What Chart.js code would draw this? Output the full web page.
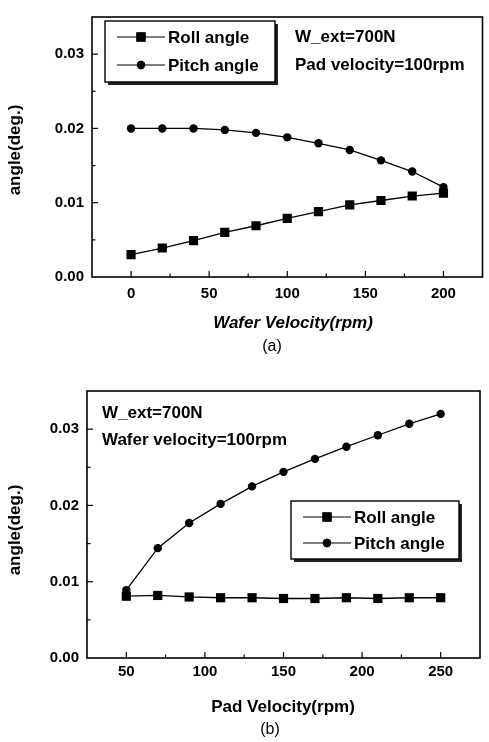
<!DOCTYPE html>
<html>
<head>
<meta charset="utf-8">
<script src="https://cdn.jsdelivr.net/npm/chart.js@4.4.1/dist/chart.umd.min.js"></script>
<style>
  html, body { margin: 0; padding: 0; background: #fff; }
  #wrapA { position: absolute; left: 0; top: 0; width: 489px; height: 370px; }
  #wrapB { position: absolute; left: 0; top: 370px; width: 489px; height: 372px; }
</style>
</head>
<body>
<div id="wrapA"><canvas id="chartA" width="489" height="370"></canvas></div>
<div id="wrapB"><canvas id="chartB" width="489" height="372"></canvas></div>
<script>
// (a) angle vs wafer velocity
const waferVelocity = [0, 20, 40, 60, 80, 100, 120, 140, 160, 180, 200];
const rollA  = [0.0030, 0.0039, 0.0049, 0.0060, 0.0069, 0.0079, 0.0088, 0.0097, 0.0103, 0.0109, 0.0113];
const pitchA = [0.0200, 0.0200, 0.0200, 0.0198, 0.0194, 0.0188, 0.0180, 0.0171, 0.0157, 0.0142, 0.0121];
const xTicksA = [0, 50, 100, 150, 200];

// (b) angle vs pad velocity
const padVelocity = [50, 70, 90, 110, 130, 150, 170, 190, 210, 230, 250];
const rollB  = [0.0081, 0.0082, 0.0080, 0.0079, 0.0079, 0.0078, 0.0078, 0.0079, 0.0078, 0.0079, 0.0079];
const pitchB = [0.0089, 0.0144, 0.0177, 0.0202, 0.0225, 0.0244, 0.0261, 0.0277, 0.0292, 0.0307, 0.0320];
const xTicksB = [50, 100, 150, 200, 250];

const yTicks = [0, 0.01, 0.02, 0.03];

const FONT = "'Liberation Sans', Arial, sans-serif";

function pts(xs, ys) {
  return xs.map((x, i) => ({ x: x, y: ys[i] }));
}

// frame, inward ticks, titles, notes and boxed legend
const paperPlugin = {
  id: 'paper',
  afterDraw(chart, args, opts) {
    const ctx = chart.ctx;
    const a = chart.chartArea;
    const xs = chart.scales.x;
    const ys = chart.scales.y;
    ctx.save();
    ctx.strokeStyle = '#000';
    ctx.lineWidth = 1.6;
    ctx.strokeRect(a.left, a.top, a.right - a.left, a.bottom - a.top);

    // inward tick marks
    ctx.lineWidth = 1.2;
    function tickMarks(scale, values, len, horizontal) {
      values.forEach(v => {
        const p = scale.getPixelForValue(v);
        ctx.beginPath();
        if (horizontal) {
          if (p <= a.left + 1 || p >= a.right - 1) return;
          ctx.moveTo(p, a.bottom); ctx.lineTo(p, a.bottom - len);
        } else {
          if (p <= a.top + 1 || p >= a.bottom - 1) return;
          ctx.moveTo(a.left, p); ctx.lineTo(a.left + len, p);
        }
        ctx.stroke();
      });
    }
    const xv = xs.ticks.map(t => t.value);
    const yv = ys.ticks.map(t => t.value);
    const half = arr => arr.map(v => v + (arr[1] - arr[0]) / 2);
    tickMarks(xs, xv, 6, true);
    tickMarks(xs, half(xv), 3.5, true);
    tickMarks(ys, yv, 6, false);
    tickMarks(ys, half(yv), 3.5, false);

    // axis titles and caption
    ctx.fillStyle = '#000';
    ctx.textAlign = 'center';
    ctx.textBaseline = 'middle';
    ctx.font = opts.xTitleFont;
    ctx.fillText(opts.xTitle, opts.xTitlePos[0], opts.xTitlePos[1]);
    ctx.font = 'normal 16px ' + FONT;
    ctx.fillText(opts.caption, opts.captionPos[0], opts.captionPos[1]);
    ctx.save();
    ctx.translate(opts.yTitlePos[0], opts.yTitlePos[1]);
    ctx.rotate(-Math.PI / 2);
    ctx.font = 'bold 17px ' + FONT;
    ctx.fillText('angle(deg.)', 0, 0);
    ctx.restore();

    // notes
    ctx.textAlign = 'left';
    ctx.font = 'bold 17px ' + FONT;
    opts.notes.forEach((n, i) => {
      ctx.fillText(n, opts.notesPos[0], opts.notesPos[1] + i * opts.notesGap);
    });

    // legend box with shadow
    const lb = opts.legendBox;
    ctx.fillStyle = '#222';
    ctx.fillRect(lb.x + 3, lb.y + 3, lb.w, lb.h);
    ctx.fillStyle = '#fff';
    ctx.fillRect(lb.x, lb.y, lb.w, lb.h);
    ctx.lineWidth = 1.4;
    ctx.strokeRect(lb.x, lb.y, lb.w, lb.h);
    chart.data.datasets.forEach((ds, i) => {
      const ry = lb.y + lb.rows[i];
      ctx.lineWidth = 1.2;
      ctx.strokeStyle = '#000';
      ctx.beginPath();
      ctx.moveTo(lb.x + 12, ry); ctx.lineTo(lb.x + 60, ry);
      ctx.stroke();
      ctx.fillStyle = '#000';
      Chart.helpers.drawPoint(ctx, {
        pointStyle: ds.pointStyle, radius: ds.pointRadius, borderWidth: 0
      }, lb.x + 36, ry);
      ctx.fill();
      ctx.font = 'bold 17px ' + FONT;
      ctx.textAlign = 'left';
      ctx.fillText(ds.label, lb.x + 63, ry + 1);
    });
    ctx.restore();
  }
};

function makeChart(id, xs, roll, pitch, xTicks, xMin, xMax, padding, yWidth, xHeight, xPad, paper) {
  return new Chart(document.getElementById(id), {
    type: 'line',
    data: {
      datasets: [
        {
          label: 'Roll angle',
          data: pts(xs, roll),
          borderColor: '#000', backgroundColor: '#000',
          borderWidth: 1.3, pointStyle: 'rect', pointRadius: 6.5, pointBorderWidth: 0
        },
        {
          label: 'Pitch angle',
          data: pts(xs, pitch),
          borderColor: '#000', backgroundColor: '#000',
          borderWidth: 1.3, pointStyle: 'circle', pointRadius: 4.2, pointBorderWidth: 0
        }
      ]
    },
    options: {
      responsive: false,
      animation: false,
      layout: { padding: padding },
      plugins: { legend: { display: false }, tooltip: { enabled: false }, paper: paper },
      scales: {
        x: {
          type: 'linear', min: xMin, max: xMax,
          grid: { display: false, drawTicks: false }, border: { display: false },
          ticks: { color: '#000', padding: xPad, font: { family: FONT, size: 15, weight: 'bold' } },
          afterBuildTicks: s => { s.ticks = xTicks.map(v => ({ value: v })); },
          afterFit: s => { s.height = xHeight; }
        },
        y: {
          min: 0, max: 0.035,
          grid: { display: false, drawTicks: false }, border: { display: false },
          ticks: {
            color: '#000', padding: 8, font: { family: FONT, size: 15, weight: 'bold' },
            callback: v => v.toFixed(2)
          },
          afterBuildTicks: s => { s.ticks = yTicks.map(v => ({ value: v })); },
          afterFit: s => { s.width = yWidth; }
        }
      }
    },
    plugins: [paperPlugin]
  });
}

makeChart('chartA', waferVelocity, rollA, pitchA, xTicksA, -25, 225,
  { top: 7, right: 2, left: 0, bottom: 0 }, 92, 93, 8, {
    xTitle: 'Wafer Velocity(rpm)', xTitleFont: 'italic bold 17px ' + FONT, xTitlePos: [293, 323],
    caption: '(a)', captionPos: [272, 347],
    yTitlePos: [15, 150],
    notes: ['W_ext=700N', 'Pad velocity=100rpm'], notesPos: [295, 37], notesGap: 28,
    legendBox: { x: 105, y: 21, w: 170, h: 61, rows: [16, 44] }
  });

makeChart('chartB', padVelocity, rollB, pitchB, xTicksB, 25, 275,
  { top: 21, right: 9, left: 0, bottom: 0 }, 87, 84, 5, {
    xTitle: 'Pad Velocity(rpm)', xTitleFont: 'bold 17px ' + FONT, xTitlePos: [283, 337],
    caption: '(b)', captionPos: [270, 360],
    yTitlePos: [15, 160],
    notes: ['W_ext=700N', 'Wafer velocity=100rpm'], notesPos: [102, 43], notesGap: 27,
    legendBox: { x: 291, y: 131, w: 168, h: 58, rows: [16, 42] }
  });
</script>
</body>
</html>
